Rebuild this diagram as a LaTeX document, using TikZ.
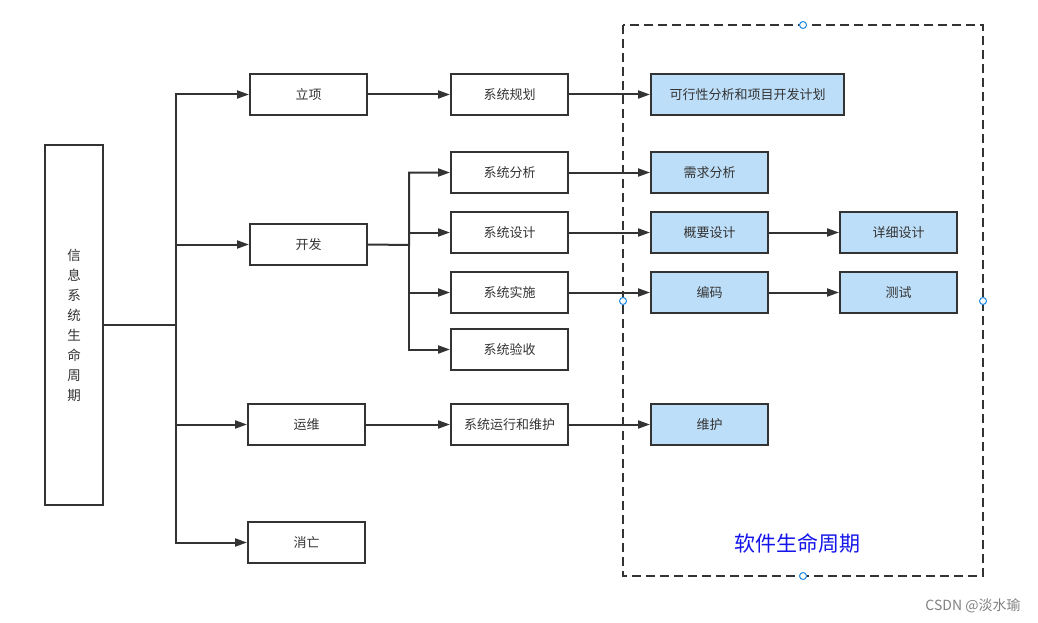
\documentclass[tikz,border=0pt]{standalone}
\usepackage{fontspec}
\setmainfont{Noto Sans CJK SC}
\usetikzlibrary{arrows.meta,positioning}

\definecolor{linegray}{RGB}{51,51,51}
\definecolor{softblue}{RGB}{189,222,248}
\definecolor{titleblue}{RGB}{20,20,235}
\definecolor{handleblue}{RGB}{30,136,229}

\tikzset{
  stage/.style={draw=linegray,line width=2pt,minimum width=117pt,minimum height=41pt,
    inner sep=0pt,text=linegray,font=\fontsize{13}{15}\selectfont},
  softstage/.style={stage,fill=softblue},
  arr/.style={draw=linegray,line width=2pt,-{Triangle[length=12pt,width=8pt]}},
  handle/.style={circle,draw=handleblue,fill=white,line width=1pt,minimum size=7pt,inner sep=0pt}
}

\begin{document}
\begin{tikzpicture}[x=1pt,y=-1pt]
\useasboundingbox (0,0) rectangle (1038,623);

% dashed frame of the software life cycle
\draw[linegray,line width=2pt,dash pattern=on 9pt off 5pt] (623,25) rectangle (983,576);

% left column
\node[stage,minimum width=58pt,minimum height=360pt,align=center,
  font=\fontsize{13.5}{20}\selectfont] (info) at (74,325)
  {信\\息\\系\\统\\生\\命\\周\\期};

\node[stage] (lixiang) at (308.5,94.5) {立项};
\node[stage] (kaifa) at (308.5,244.5) {开发};
\node[stage] (yunwei) at (306.5,424.5) {运维};
\node[stage] (xiaowang) at (306.5,542.5) {消亡};

\node[stage] (guihua) at (509.5,94.5) {系统规划};
\node[stage] (fenxi) at (509.5,172.5) {系统分析};
\node[stage] (sheji) at (509.5,232.5) {系统设计};
\node[stage] (shishi) at (509.5,292.5) {系统实施};
\node[stage] (yanshou) at (509.5,349.5) {系统验收};
\node[stage] (yunxing) at (509.5,424.5) {系统运行和维护};

% software life cycle stages
\node[softstage,minimum width=193pt] (kexing) at (747.5,94.5) {可行性分析和项目开发计划};
\node[softstage] (xuqiu) at (709.5,172.5) {需求分析};
\node[softstage] (gaiyao) at (709.5,232.5) {概要设计};
\node[softstage] (bianma) at (709.5,292.5) {编码};
\node[softstage] (weihu) at (709.5,424.5) {维护};
\node[softstage] (xiangxi) at (898.5,232.5) {详细设计};
\node[softstage] (ceshi) at (898.5,292.5) {测试};

\node[text=titleblue,font=\fontsize{21}{24}\selectfont] (title) at (797,543) {软件生命周期};

% branch points
\coordinate (t1) at (176,325);
\coordinate (t2) at (409,245);

\draw[arr] (info.east) -- (t1) |- (lixiang.west);
\draw[arr] (t1) |- (kaifa.west);
\draw[arr] (t1) |- (yunwei.west);
\draw[arr] (t1) |- (xiaowang.west);

\draw[arr] (kaifa.east) -- (t2) |- (fenxi.west);
\draw[arr] (t2) |- (sheji.west);
\draw[arr] (t2) |- (shishi.west);
\draw[arr] (t2) |- (yanshou.west);

\draw[arr] (lixiang) -- (guihua);
\draw[arr] (yunwei) -- (yunxing);
\draw[arr] (guihua) -- (kexing);
\draw[arr] (fenxi) -- (xuqiu);
\draw[arr] (sheji) -- (gaiyao);
\draw[arr] (shishi) -- (bianma);
\draw[arr] (yunxing) -- (weihu);
\draw[arr] (gaiyao) -- (xiangxi);
\draw[arr] (bianma) -- (ceshi);

% selection handles
\node[handle] (htop) at (803,25) {};
\node[handle] (hbottom) at (803,576) {};
\node[handle] (hleft) at (623,301) {};
\node[handle] (hright) at (983,301) {};

\node[text=gray,font=\fontsize{14}{16}\selectfont] (mark) at (973,606) {CSDN @淡水瑜};
\end{tikzpicture}
\end{document}
